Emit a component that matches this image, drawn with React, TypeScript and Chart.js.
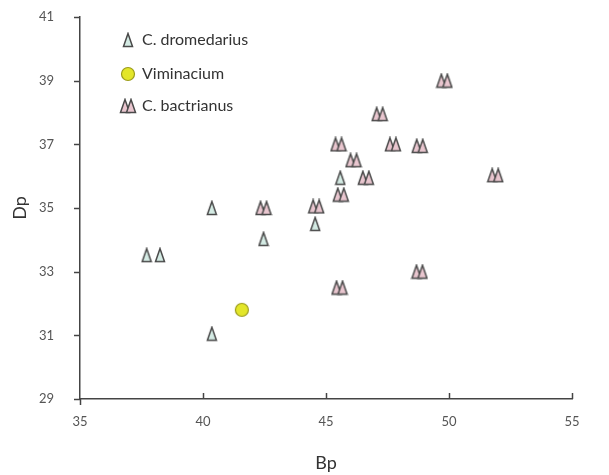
import React, { useEffect, useRef } from "react";
import { Chart, registerables } from "chart.js";

Chart.register(...registerables);

const seriesNames = ["C. dromedarius", "Viminacium", "C. bactrianus"];

const dromedariusX = [40.36, 37.71, 38.25, 40.36, 42.46, 44.56, 45.58];
const dromedariusY = [35.0, 33.52, 33.52, 31.05, 34.03, 34.5, 35.95];

const viminaciumX = [41.58];
const viminaciumY = [31.8];

const bactrianusX = [49.81, 47.18, 45.51, 47.72, 48.81, 46.12, 46.62, 45.6, 44.6, 42.46, 51.88, 45.55, 48.8];
const bactrianusY = [39.0, 37.95, 37.0, 37.0, 36.95, 36.5, 35.95, 35.42, 35.05, 35.0, 36.03, 32.5, 33.0];

const xTicks = [35, 40, 45, 50, 55];
const yTicks = [29, 31, 33, 35, 37, 39, 41];

const FONT = "Lato, 'Open Sans', sans-serif";

function makeTriangle(fill: string, stroke: string, double: boolean): HTMLCanvasElement {
  const w = double ? 18 : 12;
  const h = 16;
  const c = document.createElement("canvas");
  c.width = w;
  c.height = h;
  const ctx = c.getContext("2d")!;
  ctx.lineWidth = 1.5;
  ctx.strokeStyle = stroke;
  ctx.fillStyle = fill;
  const tri = (cx: number) => {
    ctx.beginPath();
    ctx.moveTo(cx, 1.5);
    ctx.lineTo(cx + 4.5, h - 1.5);
    ctx.lineTo(cx - 4.5, h - 1.5);
    ctx.closePath();
    ctx.fill();
    ctx.stroke();
  };
  if (double) {
    tri(w / 2 - 3);
    tri(w / 2 + 3);
  } else {
    tri(w / 2);
  }
  return c;
}

function makeCircle(fill: string, stroke: string): HTMLCanvasElement {
  const c = document.createElement("canvas");
  c.width = 16;
  c.height = 16;
  const ctx = c.getContext("2d")!;
  ctx.beginPath();
  ctx.arc(8, 8, 6.5, 0, Math.PI * 2);
  ctx.fillStyle = fill;
  ctx.fill();
  ctx.lineWidth = 1.2;
  ctx.strokeStyle = stroke;
  ctx.stroke();
  return c;
}

export default function App() {
  const ref = useRef<HTMLCanvasElement>(null);
  useEffect(() => {
    document.body.style.margin = "0";
    const dromImg = makeTriangle("#d4ebe4", "#4a4a4a", false);
    const bactImg = makeTriangle("#e9c6cf", "#4a4a4a", true);
    const vimImg = makeCircle("#e3e62a", "#9c9c1c");
    const imgs = [dromImg, vimImg, bactImg];

    const customPlugin = {
      id: "custom",
      afterDraw(chart: any) {
        const ctx = chart.ctx;
        const xs = chart.scales.x;
        const ysc = chart.scales.y;
        const area = chart.chartArea;
        ctx.save();
        ctx.strokeStyle = "#444";
        ctx.lineWidth = 1.5;
        xTicks.forEach((t) => {
          const px = Math.round(xs.getPixelForValue(t)) + 0.5;
          ctx.beginPath();
          if (t === xTicks[0]) {
            ctx.moveTo(px, area.bottom);
            ctx.lineTo(px, area.bottom + 6);
          } else {
            ctx.moveTo(px, area.bottom);
            ctx.lineTo(px, area.bottom - 6);
          }
          ctx.stroke();
        });
        yTicks.forEach((t) => {
          const py = Math.round(ysc.getPixelForValue(t)) + 0.5;
          ctx.beginPath();
          ctx.moveTo(area.left, py);
          ctx.lineTo(area.left - 6, py);
          ctx.stroke();
        });
        // legend
        const lx = area.left + 48;
        const ys = [area.top + 23, area.top + 57, area.top + 89];
        ctx.font = "16px " + FONT;
        ctx.fillStyle = "#333";
        ctx.textBaseline = "middle";
        seriesNames.forEach((n, i) => {
          const img = imgs[i];
          ctx.drawImage(img, lx - img.width / 2, ys[i] - img.height / 2);
          ctx.fillText(n, lx + 14, ys[i]);
        });
        ctx.restore();
      },
    };

    const toPts = (xs: number[], ys: number[]) => xs.map((x, i) => ({ x, y: ys[i] }));

    const chart = new Chart(ref.current!, {
      type: "scatter",
      data: {
        datasets: [
          { label: seriesNames[0], data: toPts(dromedariusX, dromedariusY), pointStyle: dromImg as any },
          { label: seriesNames[1], data: toPts(viminaciumX, viminaciumY), pointStyle: vimImg as any },
          { label: seriesNames[2], data: toPts(bactrianusX, bactrianusY), pointStyle: bactImg as any },
        ],
      },
      options: {
        animation: false,
        responsive: false,
        layout: { autoPadding: false, padding: { top: 17, right: 37, left: 0, bottom: 0 } },
        plugins: { legend: { display: false }, tooltip: { enabled: false } },
        scales: {
          x: {
            type: "linear",
            min: 35,
            max: 55,
            afterBuildTicks: (s: any) => {
              s.ticks = xTicks.map((v) => ({ value: v }));
            },
            afterFit: (s: any) => {
              s.height = 76;
            },
            grid: { display: false, drawTicks: false },
            border: { display: true, color: "#444", width: 1.5 },
            ticks: { padding: 15, color: "#555", font: { family: FONT, size: 13 }, maxRotation: 0 },
            title: { display: true, text: "Bp", color: "#333", font: { family: FONT, size: 18 }, padding: { top: 0, bottom: 1 } },
          },
          y: {
            type: "linear",
            min: 29,
            max: 41,
            afterBuildTicks: (s: any) => {
              s.ticks = yTicks.map((v) => ({ value: v }));
            },
            afterFit: (s: any) => {
              s.width = 80;
            },
            grid: { drawOnChartArea: false, drawTicks: true, tickLength: 24, tickColor: "rgba(0,0,0,0)", color: "rgba(0,0,0,0)" },
            border: { display: true, color: "#444", width: 1.5 },
            ticks: { padding: 2, color: "#555", font: { family: FONT, size: 13 } },
            title: { display: true, text: "Dp", color: "#333", font: { family: FONT, size: 18 }, padding: { top: 9, bottom: 0 } },
          },
        },
      },
      plugins: [customPlugin],
    });
    return () => chart.destroy();
  }, []);
  return <canvas ref={ref} width={609} height={475} style={{ display: "block" }} />;
}
